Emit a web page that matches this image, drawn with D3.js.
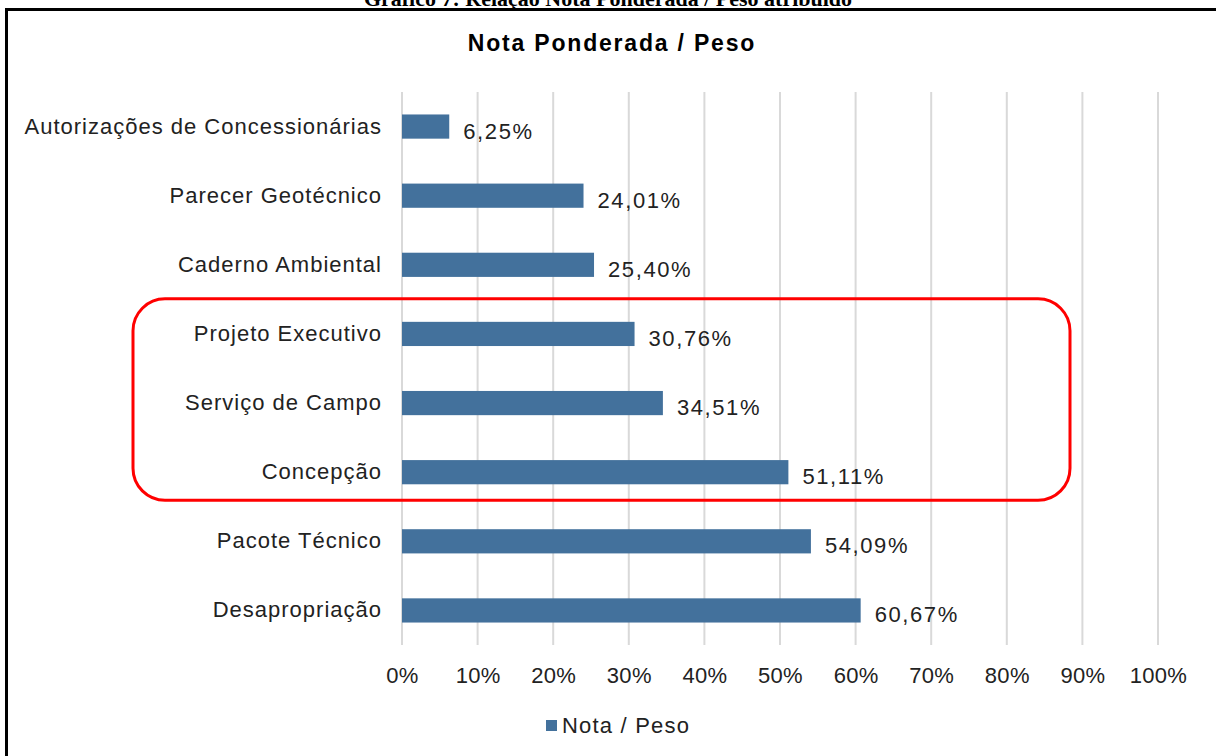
<!DOCTYPE html>
<html>
<head>
<meta charset="utf-8">
<script src="https://cdn.jsdelivr.net/npm/d3@7"></script>
<style>
  body { margin: 0; background: #fff; }
  svg { display: block; }
</style>
</head>
<body>
<svg id="chart" width="1216" height="756"></svg>
<script>
// data (top to bottom)
const categories = ['Autorizações de Concessionárias', 'Parecer Geotécnico', 'Caderno Ambiental',
  'Projeto Executivo', 'Serviço de Campo', 'Concepção', 'Pacote Técnico', 'Desapropriação'];
const values = [6.25, 24.01, 25.40, 30.76, 34.51, 51.11, 54.09, 60.67];
const xTicks = [0, 10, 20, 30, 40, 50, 60, 70, 80, 90, 100];
const highlighted = ['Projeto Executivo', 'Serviço de Campo', 'Concepção'];

const svg = d3.select('#chart');
const font = '"Liberation Sans", Arial, sans-serif';
const barColor = '#43719c';

const data = categories.map((c, i) => ({name: c, value: values[i]}));

const x = d3.scaleLinear().domain([0, 100]).range([402, 1158]);
const y = d3.scaleBand().domain(categories).range([92, 645]).paddingInner(0.65).paddingOuter(0.325);

// caption above the frame (cut off at top, as in the source)
svg.append('text')
  .attr('x', 608).attr('y', 6)
  .attr('text-anchor', 'middle')
  .style('font-family', '"Liberation Serif", "Times New Roman", serif')
  .style('font-weight', 'bold')
  .style('font-size', '22px')
  .text('Gráfico 7: Relação Nota Ponderada / Peso atribuído');

// frame
svg.append('rect')
  .attr('x', 6.5).attr('y', 9.5)
  .attr('width', 1230).attr('height', 760)
  .attr('fill', 'none').attr('stroke', '#000').attr('stroke-width', 3);

// title
svg.append('text')
  .attr('x', 612).attr('y', 51)
  .attr('text-anchor', 'middle')
  .style('font-family', font).style('font-weight', 'bold').style('font-size', '23px')
  .style('letter-spacing', '1.8px')
  .text('Nota Ponderada / Peso');

// gridlines
svg.append('g').selectAll('line').data(xTicks).enter().append('line')
  .attr('x1', d => x(d)).attr('x2', d => x(d))
  .attr('y1', 92).attr('y2', 645)
  .attr('stroke', '#d9d9d9').attr('stroke-width', 2);

// x axis
const xAxis = svg.append('g')
  .attr('transform', 'translate(0,645)')
  .call(d3.axisBottom(x).tickValues(xTicks).tickSize(0).tickPadding(22).tickFormat(d => d + '%'));
xAxis.select('.domain').remove();
xAxis.selectAll('text').style('font-family', font).style('font-size', '22px')
  .style('letter-spacing', '0.3px').attr('fill', '#222');

// y axis
const yAxis = svg.append('g')
  .attr('transform', 'translate(402,0)')
  .call(d3.axisLeft(y).tickSize(0).tickPadding(20));
yAxis.select('.domain').remove();
yAxis.selectAll('text').style('font-family', font).style('font-size', '22px')
  .style('letter-spacing', '1px').attr('fill', '#222');

// bars
svg.append('g').selectAll('rect').data(data).enter().append('rect')
  .attr('x', x(0))
  .attr('y', d => y(d.name))
  .attr('width', d => x(d.value) - x(0))
  .attr('height', y.bandwidth())
  .attr('fill', barColor);

// value labels
svg.append('g').selectAll('text').data(data).enter().append('text')
  .attr('x', d => x(d.value) + 14)
  .attr('y', d => y(d.name) + y.bandwidth() / 2 + 12)
  .style('font-family', font).style('font-size', '22px')
  .style('letter-spacing', '1.6px').attr('fill', '#222')
  .text(d => d.value.toFixed(2).replace('.', ',') + '%');

// red highlight box around the three middle categories
const hTop = y(highlighted[0]) - 23;
const hBottom = y(highlighted[highlighted.length - 1]) + y.bandwidth() + 16;
svg.append('rect')
  .attr('x', 133).attr('y', hTop)
  .attr('width', 1070 - 133).attr('height', hBottom - hTop)
  .attr('rx', 32).attr('ry', 32)
  .attr('fill', 'none').attr('stroke', '#ff0000').attr('stroke-width', 3);

// legend
const legend = svg.append('g').attr('transform', 'translate(546,725)');
legend.append('rect').attr('x', 0).attr('y', -5).attr('width', 11).attr('height', 11).attr('fill', barColor);
legend.append('text').attr('x', 16).attr('y', 8)
  .style('font-family', font).style('font-size', '22px')
  .style('letter-spacing', '1.2px').attr('fill', '#222')
  .text('Nota / Peso');
</script>
</body>
</html>
